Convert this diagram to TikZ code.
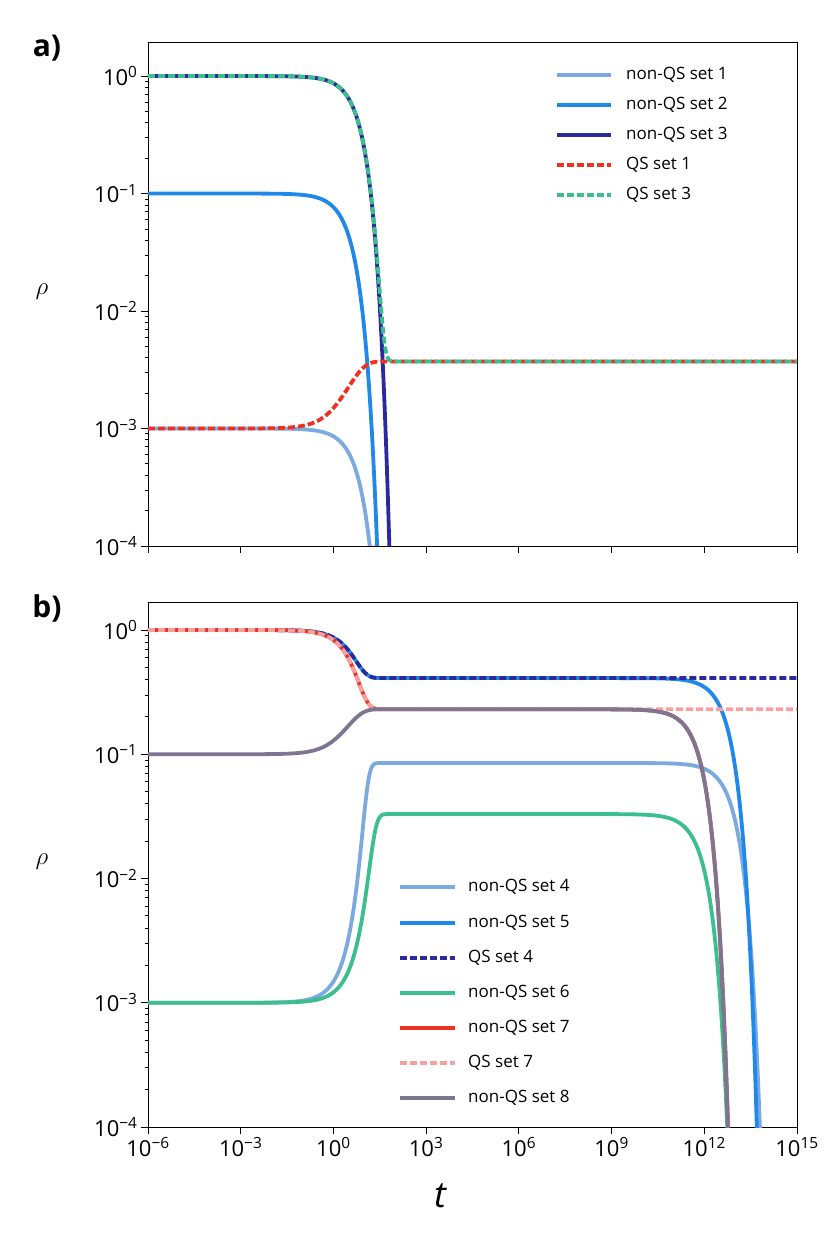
\documentclass[tikz,border=0pt]{standalone}
\usepackage{fontspec}
\setmainfont{Open Sans}
\usepackage{pgfplots}
\pgfplotsset{compat=1.18}
\definecolor{lblue}{HTML}{7BAAE0}
\definecolor{mblue}{HTML}{1F88E8}
\definecolor{navy}{HTML}{2A2A9E}
\definecolor{qred}{HTML}{F03020}
\definecolor{qgreen}{HTML}{3CBF8F}
\definecolor{qpink}{HTML}{F8A0A0}
\definecolor{qgray}{HTML}{7E7590}
\tikzset{
  crv/.style={line width=3.8pt},
  dsh/.style={line width=3.8pt, dash pattern=on 7pt off 3pt},
  legtxt/.style={anchor=west, font=\fontsize{17}{20}\selectfont, inner sep=0pt},
  ylab/.style={font=\fontsize{34}{40}\selectfont},
}
\pgfplotsset{
  every axis/.append style={
    xmode=log, ymode=log, scale only axis, width=649pt,
    xmin=1e-6, xmax=1e15, ymin=1e-4,
    xtick={1e-6,1e-3,1,1e3,1e6,1e9,1e12,1e15},
    ytick={1e-4,1e-3,1e-2,1e-1,1},
    yticklabels={10\textsuperscript{−4},10\textsuperscript{−3},10\textsuperscript{−2},10\textsuperscript{−1},10\textsuperscript{0}},
    minor xtick={}, minor ytick={},
    xtick pos=bottom, ytick pos=left,
    tick align=outside, major tick length=7pt,
    tick style={black, line width=0.8pt},
    axis line style={line width=0.8pt},
    ticklabel style={font=\fontsize{22}{26}\selectfont},
  }
}
\begin{document}
\begin{tikzpicture}[x=1pt,y=1pt]
\useasboundingbox (0,0) rectangle (830,1236);
% panel a
\begin{axis}[at={(148pt,690pt)}, anchor=south west, height=504pt, ymax=1.95, xticklabels={}]
\addplot[crv, lblue, domain=-6:2, samples=400] ({10^x},{1e-3*exp(-(10^x)/6.5)});
\addplot[crv, mblue, domain=-6:2, samples=400] ({10^x},{0.1*exp(-(10^x)/3.75)});
\addplot[crv, navy, domain=-6:2.2, samples=400] ({10^x},{exp(-(10^x)/7)});
\addplot[dsh, qred, domain=-6:15, samples=500] ({10^x},{0.00372+(1e-3-0.00372)*exp(-min((10^x)/5,700))});
\addplot[dsh, qgreen, domain=-6:15, samples=500] ({10^x},{0.00372+(1-0.00372)*exp(-min((10^x)/7,700))});
\end{axis}
% panel b
\begin{axis}[at={(148pt,109pt)}, anchor=south west, height=525pt, ymax=1.68,
  xticklabels={10\textsuperscript{−6},10\textsuperscript{−3},10\textsuperscript{0},10\textsuperscript{3},10\textsuperscript{6},10\textsuperscript{9},10\textsuperscript{12},10\textsuperscript{15}}]
\addplot[crv, lblue, domain=-6:14, samples=700] ({10^x},{0.085/(1+84*exp(-min(0.4*(10^x),700)))*exp(-(10^x)/(10^12.97))});
\addplot[crv, mblue, domain=-6:14, samples=700] ({10^x},{(0.41+0.59*exp(-min((10^x)/4,700)))*exp(-(10^x)/(10^12.78))});
\addplot[dsh, navy, domain=-6:15, samples=500] ({10^x},{0.41+0.59*exp(-min((10^x)/4,700))});
\addplot[crv, qgreen, domain=-6:13, samples=700] ({10^x},{0.033/(1+32*exp(-min(0.2*(10^x),700)))*exp(-(10^x)/(10^11.98))});
\addplot[crv, qred, domain=-6:13, samples=700] ({10^x},{(0.23+0.77*exp(-min((10^x)/4,700)))*exp(-(10^x)/(10^11.88))});
\addplot[dsh, qpink, domain=-6:15, samples=500] ({10^x},{0.23+0.77*exp(-min((10^x)/4,700))});
\addplot[crv, qgray, domain=-6:13, samples=700] ({10^x},{(0.23-0.13*exp(-min((10^x)/4,700)))*exp(-(10^x)/(10^11.88))});
\end{axis}
% legend a
\foreach \yy/\cc/\st/\tt [count=\i] in {1161/lblue/crv/non-QS set 1, 1131/mblue/crv/non-QS set 2, 1101/navy/crv/non-QS set 3, 1071/qred/dsh/QS set 1, 1041/qgreen/dsh/QS set 3}{
  \coordinate (la\i) at (557,\yy); \coordinate (lb\i) at (611,\yy);
  \draw[\st, \cc] (la\i) -- (lb\i);
  \node[legtxt] (lt\i) at (626,\yy) {\tt};
}
% legend b
\foreach \yy/\cc/\st/\tt [count=\i] in {349/lblue/crv/non-QS set 4, 313/mblue/crv/non-QS set 5, 278/navy/dsh/QS set 4, 243/qgreen/crv/non-QS set 6, 208/qred/crv/non-QS set 7, 173/qpink/dsh/QS set 7, 138/qgray/crv/non-QS set 8}{
  \coordinate (ma\i) at (400,\yy); \coordinate (mb\i) at (455,\yy);
  \draw[\st, \cc] (ma\i) -- (mb\i);
  \node[legtxt] (mt\i) at (468,\yy) {\tt};
}
\node[font=\bfseries\fontsize{30}{34}\selectfont] (pa) at (47,1188) {a)};
\node[font=\bfseries\fontsize{30}{34}\selectfont] (pb) at (47,628) {b)};
\node[ylab] (ra) at (42,944) {\fontsize{34}{40}\selectfont$\rho$};
\node[ylab] (rb) at (42,374) {\fontsize{34}{40}\selectfont$\rho$};
\node[font=\itshape\fontsize{36}{40}\selectfont] (tl) at (440,40) {t};
\end{tikzpicture}
\end{document}
